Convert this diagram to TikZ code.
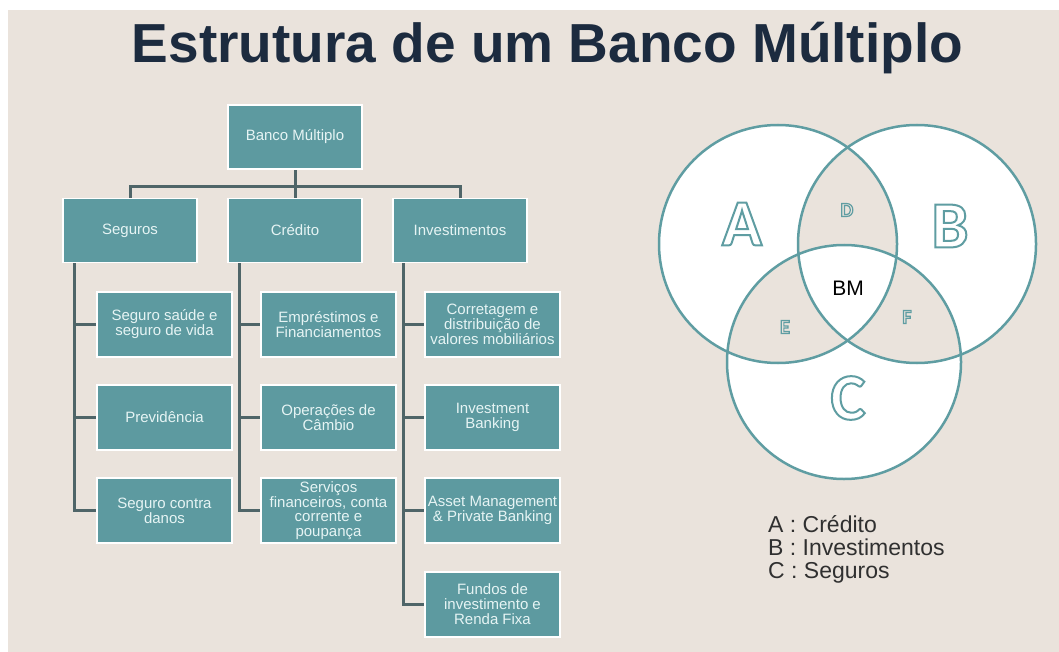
\documentclass[tikz,border=0pt]{standalone}
\usepackage{fontspec}
\setmainfont{Liberation Sans}
\newfontfamily\letterfont{Carlito}
\usetikzlibrary{backgrounds}
\definecolor{bgbeige}{HTML}{EAE3DC}
\definecolor{boxteal}{HTML}{5D9AA0}
\definecolor{boxtext}{HTML}{E6F4F4}
\definecolor{linkgray}{HTML}{4F6568}
\definecolor{vennteal}{HTML}{5F9DA2}
\definecolor{titlenavy}{HTML}{1C2B3F}
\definecolor{legendgray}{HTML}{303030}
% outlined (stroked) glyphs
\newcommand{\hollowtext}[2]{\special{pdf:literal direct 1 Tr #1 w}#2\special{pdf:literal direct 0 Tr}}
\tikzset{
  orgbox/.style={draw=white,line width=1.5pt,fill=boxteal,text=boxtext,
    font=\fontsize{15}{15}\selectfont,align=center,inner sep=1pt,
    minimum width=134pt,minimum height=64pt},
  subbox/.style={orgbox,minimum width=135pt,minimum height=65pt},
  link/.style={draw=linkgray,line width=3pt},
  vennline/.style={draw=vennteal,line width=2.5pt},
  bigletter/.style={font=\letterfont\bfseries\fontsize{66}{66}\selectfont,text=vennteal},
  smallletter/.style={font=\letterfont\bfseries\fontsize{20}{20}\selectfont,text=vennteal},
  legend/.style={font=\fontsize{23}{23}\selectfont,text=legendgray,anchor=base west,inner sep=0pt}
}

\begin{document}
\begin{tikzpicture}[x=1pt,y=-1pt]
    \useasboundingbox (0,0) rectangle (1059,652);
    % Title
    \node[font=\bfseries\fontsize{55}{60}\selectfont,text=titlenavy,anchor=base] (title)
      at (547.5,63) {Estrutura de um Banco Múltiplo};
    % Organisation chart
    \node[orgbox] (bm) at (295,137) {Banco Múltiplo};
    \node[orgbox] (seg) at (130,230.5) {Seguros};
    \node[orgbox] (cre) at (295,230.5) {Crédito};
    \node[orgbox] (inv) at (460,230.5) {Investimentos};
    \node[subbox] (seg1) at (164.5,324.5) {Seguro saúde e\\seguro de vida};
    \node[subbox] (seg2) at (164.5,417.5) {Previdência};
    \node[subbox] (seg3) at (164.5,510.5) {Seguro contra\\danos};
    \node[subbox] (cre1) at (328.5,324.5) {Empréstimos e\\Financiamentos};
    \node[subbox] (cre2) at (328.5,417.5) {Operações de\\Câmbio};
    \node[subbox,font=\fontsize{15}{14.5}\selectfont] (cre3) at (328.5,510.5)
      {Serviços\\financeiros, conta\\corrente e\\poupança};
    \node[subbox] (inv1) at (492.5,324.5) {Corretagem e\\distribuição de\\valores mobiliários};
    \node[subbox] (inv2) at (492.5,417.5) {Investment\\Banking};
    \node[subbox] (inv3) at (492.5,510.5) {Asset Management\\\& Private Banking};
    \node[subbox] (inv4) at (492.5,604.5) {Fundos de\\investimento e\\Renda Fixa};
    \coordinate (bus) at (295,187);
    \begin{scope}[on background layer]
      \fill[white] (0,0) rectangle (1059,652);
      \fill[bgbeige] (8,10) rectangle (1059,652);
      \draw[link] (bm.south) -- (bus);
      \draw[link] (bus) -| (seg.north);
      \draw[link] (bus) -| (inv.north);
      \draw[link] (bus) -- (cre.north);
      \foreach \n in {seg1,seg2,seg3}
        \draw[link] ([xshift=12pt]seg.south west) |- (\n.west);
      \foreach \n in {cre1,cre2,cre3}
        \draw[link] ([xshift=12pt]cre.south west) |- (\n.west);
      \foreach \n in {inv1,inv2,inv3,inv4}
        \draw[link] ([xshift=11pt]inv.south west) |- (\n.west);
    \end{scope}
    % Venn diagram
    \coordinate (cA) at (778,244);
    \coordinate (cB) at (917,244);
    \coordinate (cC) at (844,362);
    \fill[white,even odd rule] (cA) circle[radius=119] (cB) circle[radius=119]
      (cC) circle[radius=117];
    \draw[vennline] (cA) circle[radius=119];
    \draw[vennline] (cB) circle[radius=119];
    \draw[vennline] (cC) circle[radius=117];
    \node[bigletter] (la) at (742,224) {\hollowtext{2}{A}};
    \node[bigletter] (lb) at (950,226) {\hollowtext{2}{B}};
    \node[bigletter] (lc) at (848,398) {\hollowtext{2}{C}};
    \node[smallletter] (ld) at (847,210) {\hollowtext{1.2}{D}};
    \node[smallletter] (le) at (785,327) {\hollowtext{1.2}{E}};
    \node[smallletter] (lf) at (907,317) {\hollowtext{1.2}{F}};
    \node[font=\fontsize{21}{21}\selectfont] (bmlabel) at (848,288) {BM};
    % Legend
    \node[legend] (legA) at (768,532) {A : Crédito};
    \node[legend] (legB) at (768,555) {B : Investimentos};
    \node[legend] (legC) at (768,578) {C : Seguros};
\end{tikzpicture}
\end{document}
